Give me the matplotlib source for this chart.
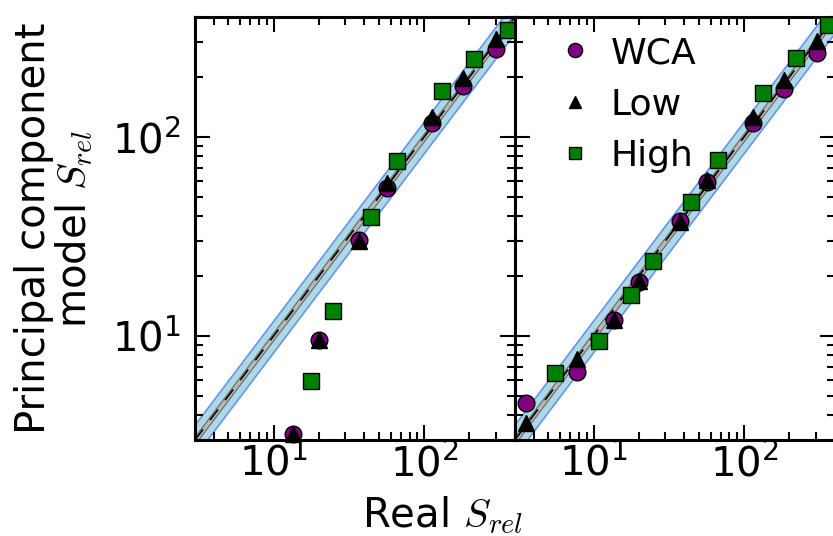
import numpy as np
import matplotlib
matplotlib.use("Agg")
import matplotlib.pyplot as plt

plt.rcParams["mathtext.fontset"] = "cm"
plt.rcParams["font.family"] = "DejaVu Sans"

# left panel
left_x_low = [13.5, 20.1, 37.1, 56.5, 113, 181, 299]
left_wca = [3.2, 9.5, 30.3, 55.2, 118, 180, 276]
left_low = [3.2, 9.6, 30.0, 58.7, 126, 197, 310]
left_x_high = [17.7, 24.8, 44.4, 66.4, 131, 213, 361]
left_high = [5.94, 13.4, 39.5, 76.1, 170, 247, 345]

# right panel
right_x_low = [3.56, 7.74, 13.6, 20.2, 37.5, 57.1, 115, 184, 305]
right_wca = [4.62, 6.62, 12.1, 18.7, 37.9, 59.1, 117, 174, 265]
right_low = [3.64, 7.64, 12.0, 18.9, 37.5, 60.5, 126, 193, 302]
right_x_high = [5.52, 10.9, 17.8, 24.9, 44.4, 67.3, 134, 220, 359]
right_high = [6.55, 9.44, 16.1, 23.8, 47.0, 76.6, 167, 250, 365]

lims = (3, 400)

fig = plt.figure(figsize=(8.33, 5.36), dpi=100)
ax1 = fig.add_axes([0.234, 0.179, 0.384, 0.789])
ax2 = fig.add_axes([0.618, 0.179, 0.384, 0.789], sharey=ax1)


def draw_panel(ax, xl, wca, low, xh, high):
    line = np.logspace(np.log10(lims[0]) - 0.1, np.log10(lims[1]) + 0.1, 50)
    ax.fill_between(line, line / 1.2, line * 1.2, facecolor="#add8e6",
                    edgecolor="#6495ed", lw=1.2, zorder=1)
    ax.fill_between(line, line / 1.045, line * 1.045, facecolor="0.72",
                    edgecolor="0.4", lw=0.8, zorder=2)
    ax.plot(line, line, "k", dashes=(8, 7), lw=1.2, zorder=3)
    ax.plot(xl, wca, "o", color="purple", mec="k", mew=1, ms=12,
            label="WCA", zorder=4, clip_on=False)
    ax.plot(xl, low, "^", color="k", mec="k", ms=11,
            label="Low", zorder=5, clip_on=False)
    ax.plot(xh, high, "s", color="green", mec="k", mew=1, ms=11,
            label="High", zorder=6, clip_on=False)
    ax.set_xscale("log")
    ax.set_yscale("log")
    ax.set_xlim(lims)
    ax.set_ylim(lims)
    ax.tick_params(which="both", direction="in", top=True, right=True,
                   labelsize=29, width=1.5)
    ax.tick_params(axis="y", pad=10)
    ax.tick_params(axis="x", pad=3)
    ax.tick_params(which="major", length=11)
    ax.tick_params(which="minor", length=6)
    for s in ax.spines.values():
        s.set_linewidth(2.2)


draw_panel(ax1, left_x_low, left_wca, left_low, left_x_high, left_high)
draw_panel(ax2, right_x_low, right_wca, right_low, right_x_high, right_high)
ax2.tick_params(labelleft=False)

ax1.set_ylabel("Principal component\nmodel $S_{rel}$", fontsize=29,
               linespacing=1.0, labelpad=12)
fig.text(0.531, 0.0, "Real $S_{rel}$", fontsize=29, ha="center", va="bottom")

ax2.legend(loc="upper left", bbox_to_anchor=(0.04, 1.015), frameon=False,
           numpoints=1, fontsize=26, handletextpad=0.4, labelspacing=0.48,
           borderaxespad=0.3, handlelength=1.2, markerscale=0.85)

fig.savefig("out.png", dpi=100)
